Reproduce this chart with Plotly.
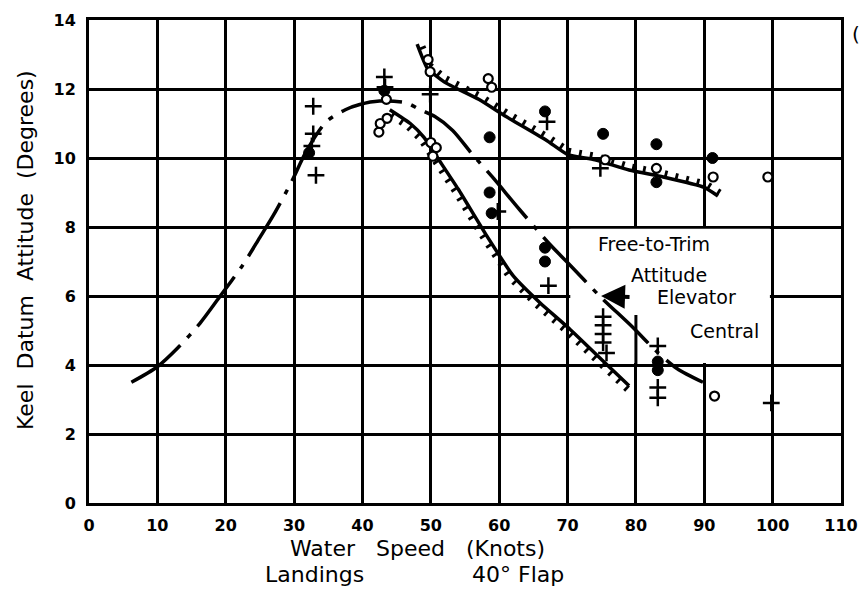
import numpy as np
import plotly.graph_objects as go

# ---------------- data ----------------
x_ticks = [0, 10, 20, 30, 40, 50, 60, 70, 80, 90, 100, 110]
y_ticks = [0, 2, 4, 6, 8, 10, 12, 14]

# free-to-trim attitude, elevator central (dash-dot curve)
ftt_x = [6.2, 10, 13, 16.2, 19.2, 22.5, 25, 27, 29.6, 31.8, 34.7, 37.5, 39.6, 42.5,
         46.4, 48.4, 50.6, 53.2, 56.1, 59, 63, 67.4, 70.1, 74.7, 79.5, 83, 86, 89.8]
ftt_y = [3.5, 3.95, 4.5, 5.2, 6.0, 6.9, 7.7, 8.35, 9.3, 10.2, 11.05, 11.4, 11.55, 11.65,
         11.6, 11.4, 11.2, 10.8, 10.1, 9.45, 8.5, 7.5, 6.95, 6.0, 5.1, 4.4, 3.9, 3.5]

# upper stability limit (hatched above)
upper_x = [48, 49.5, 52, 57, 61, 67, 70, 74, 79, 84, 90, 92]
upper_y = [13.3, 12.6, 12.2, 11.7, 11.2, 10.5, 10.1, 9.95, 9.65, 9.45, 9.15, 8.9]

# lower stability limit (hatched below)
lower_x = [44, 47, 49, 51, 54, 58, 62, 66, 70, 75, 79]
lower_y = [11.4, 11.0, 10.6, 10.0, 9.1, 7.8, 6.6, 5.8, 5.1, 4.15, 3.4]

open_x = [42.4, 42.6, 43.6, 43.5, 49.6, 49.9, 50.0, 50.8, 50.3, 58.4, 58.9,
          75.5, 83.0, 91.3, 99.3, 91.5]
open_y = [10.75, 11.0, 11.15, 11.7, 12.85, 12.5, 10.45, 10.3, 10.05, 12.3, 12.05,
          9.95, 9.7, 9.45, 9.45, 3.1]

filled_x = [32.2, 43.2, 58.6, 58.6, 58.9, 66.7, 66.7, 66.7, 75.2, 83.0, 83.0, 91.2, 83.2, 83.2]
filled_y = [10.15, 11.95, 10.6, 9.0, 8.4, 11.35, 7.4, 7.0, 10.7, 10.4, 9.3, 10.0, 4.1, 3.85]

plus_x = [32.8, 32.8, 32.6, 33.2, 43.2, 43.3, 49.9, 67.0, 59.8, 67.2, 75.2, 75.2, 75.2,
          75.2, 75.7, 83.2, 83.2, 83.2, 99.8, 74.8]
plus_y = [11.5, 10.7, 10.35, 9.5, 12.35, 12.05, 11.85, 11.05, 8.45, 6.3, 5.4, 5.15, 4.9,
          4.65, 4.35, 4.55, 3.35, 3.05, 2.9, 9.7]

# ---------------- layout geometry ----------------
W, H = 861, 592
ML, MT = 89, 20
MR = W - 841
MB = H - 503
XMAX, YMAX = 110, 14
PW = W - ML - MR
PH = H - MT - MB
PX = PW / XMAX
PY = PH / YMAX
FONT = "DejaVu Sans"


def paper_x(sx):
    return (sx - ML) / PW


def paper_y(sy):
    return (H - MB - sy) / PH


def hatch(xs, ys, side, spacing=11.0, length=7.0):
    px = np.asarray(xs, float) * PX
    py = np.asarray(ys, float) * PY
    seg = np.hypot(np.diff(px), np.diff(py))
    cum = np.concatenate([[0.0], np.cumsum(seg)])
    hx, hy = [], []
    for s in np.arange(spacing / 2, cum[-1], spacing):
        i = int(np.clip(np.searchsorted(cum, s) - 1, 0, len(seg) - 1))
        t = (s - cum[i]) / seg[i]
        x0 = px[i] + t * (px[i + 1] - px[i])
        y0 = py[i] + t * (py[i + 1] - py[i])
        dx = (px[i + 1] - px[i]) / seg[i]
        dy = (py[i + 1] - py[i]) / seg[i]
        nx, ny = -dy * side, dx * side
        hx += [x0 / PX, (x0 + nx * length) / PX, None]
        hy += [y0 / PY, (y0 + ny * length) / PY, None]
    return hx, hy


fig = go.Figure()

fig.add_trace(go.Scatter(x=ftt_x, y=ftt_y, mode="lines",
                         line=dict(color="black", width=3.5, shape="spline", smoothing=0.8,
                                   dash="62px,10px,5px,10px"),
                         hoverinfo="skip"))
fig.add_trace(go.Scatter(x=upper_x, y=upper_y, mode="lines",
                         line=dict(color="black", width=3.5, shape="spline", smoothing=0.5),
                         hoverinfo="skip"))
fig.add_trace(go.Scatter(x=lower_x, y=lower_y, mode="lines",
                         line=dict(color="black", width=3.5, shape="spline", smoothing=0.5),
                         hoverinfo="skip"))
ux, uy = hatch(upper_x, upper_y, +1)
lx, ly = hatch(lower_x, lower_y, -1)
fig.add_trace(go.Scatter(x=ux + lx, y=uy + ly, mode="lines",
                         line=dict(color="black", width=2.8), hoverinfo="skip"))

fig.add_trace(go.Scatter(x=filled_x, y=filled_y, mode="markers",
                         marker=dict(symbol="circle", size=11, color="black",
                                     line=dict(color="black", width=1))))
fig.add_trace(go.Scatter(x=open_x, y=open_y, mode="markers",
                         marker=dict(symbol="circle", size=9, color="white",
                                     line=dict(color="black", width=2.2))))
fig.add_trace(go.Scatter(x=plus_x, y=plus_y, mode="markers",
                         marker=dict(symbol="cross-thin", size=12,
                                     line=dict(color="black", width=2.5))))

# blank label area over the grid
fig.add_shape(type="rect", x0=70.4, x1=99.6, y0=4.06, y1=7.95, layer="between",
              fillcolor="white", line=dict(width=0))
fig.add_shape(type="line", x0=80, x1=80, y0=4.0, y1=5.45, layer="between",
              line=dict(color="black", width=3))

lab = dict(font=dict(family=FONT, size=19, color="black"), showarrow=False,
           xref="x", yref="y", xanchor="center", yanchor="middle")
fig.add_annotation(text="Free-to-Trim", x=82.7, y=7.5, **lab)
fig.add_annotation(text="Attitude", x=84.9, y=6.62, **lab)
fig.add_annotation(text="Elevator", x=88.9, y=5.97, **lab)
fig.add_annotation(text="Central", x=93.0, y=5.0, **lab)
fig.add_annotation(x=74.9, y=6.0, xref="x", yref="y", ax=30, ay=1, text="",
                   showarrow=True, arrowhead=2, arrowsize=1.2, arrowwidth=4,
                   arrowcolor="black")

big = dict(family=FONT, size=22, color="black")
ctr = dict(xref="paper", yref="paper", showarrow=False, font=big,
           xanchor="center", yanchor="middle")
fig.add_annotation(text="Keel  Datum  Attitude  (Degrees)", textangle=-90,
                   x=paper_x(25), y=paper_y(250), **ctr)
fig.add_annotation(text="Water   Speed   (Knots)", x=paper_x(417), y=paper_y(548), **ctr)
fig.add_annotation(text="Landings", x=paper_x(314), y=paper_y(574), **ctr)
fig.add_annotation(text="40° Flap", x=paper_x(518), y=paper_y(574), **ctr)
fig.add_annotation(text="(", x=paper_x(850), y=paper_y(34),
                   xref="paper", yref="paper", showarrow=False, xanchor="left",
                   yanchor="middle", font=dict(family=FONT, size=20, color="black"))

axis_common = dict(showline=True, linecolor="black", linewidth=3, mirror=True,
                   showgrid=True, gridcolor="black", gridwidth=3, zeroline=False,
                   ticks="", tickfont=dict(family=FONT, size=16, color="black", weight="bold"),
                   fixedrange=True, automargin=False)

fig.update_xaxes(range=[0, XMAX], tickmode="array", tickvals=x_ticks,
                 ticktext=[str(v) for v in x_ticks], ticklabelstandoff=6, **axis_common)
fig.update_yaxes(range=[0, YMAX], tickmode="array", tickvals=y_ticks,
                 ticktext=[str(v) for v in y_ticks], ticklabelstandoff=7, **axis_common)

fig.update_layout(width=W, height=H, margin=dict(l=ML, r=MR, t=MT, b=MB),
                  paper_bgcolor="white", plot_bgcolor="white", showlegend=False,
                  font=dict(family=FONT, color="black"))

fig.write_html("out.html", config={"displayModeBar": False, "staticPlot": True},
               post_script="document.body.style.margin='0';"
                           "document.body.style.overflow='hidden';")
